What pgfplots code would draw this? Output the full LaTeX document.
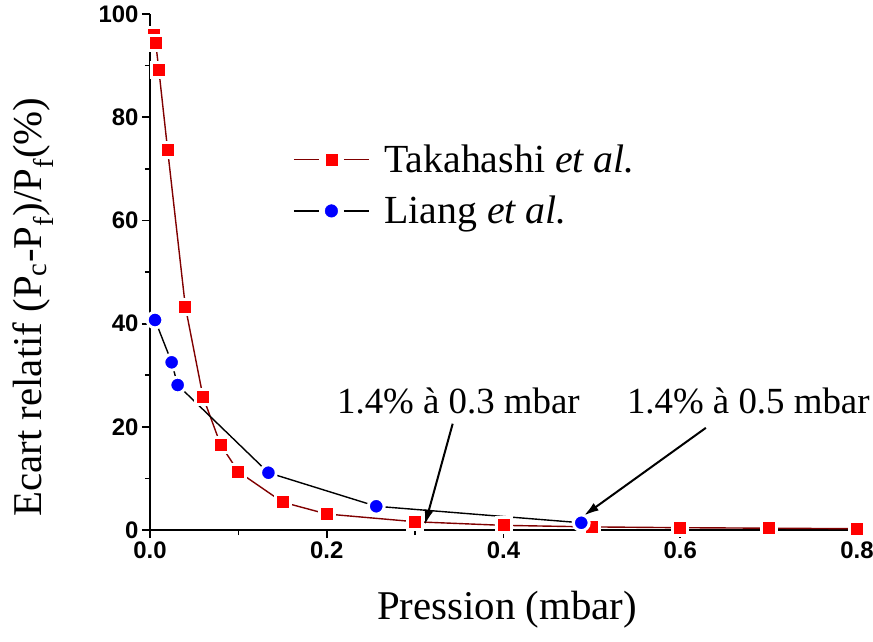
\documentclass[border=0pt]{standalone}
\usepackage{pgfplots}
\pgfplotsset{compat=1.18}
\usepackage{fontspec}
\setmainfont{Liberation Serif}
\newfontfamily\arialfont{Liberation Sans}
\usetikzlibrary{arrows.meta}
\definecolor{tline}{RGB}{128,0,0}
\definecolor{tmark}{RGB}{255,0,0}
\definecolor{lmark}{RGB}{0,0,255}
\pgfplotstableread{
x y
0.004 95.9
0.0065 94.3
0.010 89.2
0.020 73.6
0.040 43.3
0.060 25.8
0.080 16.5
0.100 11.3
0.150 5.4
0.200 3.1
0.300 1.6
0.400 0.9
0.500 0.6
0.600 0.45
0.700 0.35
0.800 0.25
}\takahashi
\pgfplotstableread{
x y
0.0057 40.7
0.0245 32.5
0.0313 28.1
0.134 11.1
0.256 4.6
0.488 1.4
}\liang
\begin{document}
\begin{tikzpicture}
\begin{axis}[
  name=ax,
  width=707bp, height=516bp, scale only axis,
  xmin=0, xmax=0.8, ymin=0, ymax=100,
  axis lines=left, axis line style={-, line width=2.5bp},
  tick align=outside,
  xtick={0,0.2,0.4,0.6,0.8}, minor xtick={0.1,0.3,0.5,0.7},
  ytick={0,20,40,60,80,100}, minor ytick={10,30,50,70,90},
  major tick length=8bp, minor tick length=5bp,
  major tick style={black, line width=1.8bp},
  minor tick style={black, line width=1.5bp},
  tick label style={font=\arialfont\bfseries\fontsize{24}{24}\selectfont},
  /pgf/number format/assume math mode=true,
  xticklabel style={/pgf/number format/.cd, fixed, fixed zerofill, precision=1},
  xlabel={Pression (mbar)},
  ylabel={Ecart relatif (P\textsubscript{c}-P\textsubscript{f})/P\textsubscript{f}(\%)},
  label style={font=\fontsize{41}{41}\selectfont},
  xlabel style={at={(axis description cs:0.505,-0.155)}, anchor=center},
  ylabel style={at={(axis description cs:-0.165,0.432)}, anchor=center},
  clip=false,
  legend style={draw=none, fill=none, at={(axis description cs:0.2023,0.75)}, anchor=north west,
    font=\fontsize{40}{40}\selectfont, row sep=18bp, inner sep=0pt, nodes={inner sep=2bp}},
  legend cell align=left,
]
\addplot[tline, line width=1.4bp, forget plot] table {\takahashi};
\addplot[black, line width=1.4bp, forget plot] table {\liang};
\addplot[only marks, mark=square*, mark size=7.5bp, mark options={draw=white, fill=tmark, line width=3bp}, forget plot] table {\takahashi};
\addplot[only marks, mark=*, mark size=7.9bp, mark options={draw=white, fill=lmark, line width=3bp}, forget plot] table {\liang};

\addlegendimage{legend image code/.code={\draw[tline, line width=1.4bp] (0bp,0bp)--(25bp,0bp) (50bp,0bp)--(75bp,0bp); \fill[tmark] (32bp,-5.5bp) rectangle (43bp,5.5bp); \path (88bp,0bp);}}
\addlegendentry{Takahashi \textit{et al.}}
\addlegendimage{legend image code/.code={\draw[black, line width=1.4bp] (0bp,0bp)--(25bp,0bp) (50bp,0bp)--(75bp,0bp); \fill[lmark] (37.5bp,0bp) circle (6.3bp); \path (88bp,0bp);}}
\addlegendentry{Liang \textit{et al.}}

\node[font=\fontsize{37}{37}\selectfont, anchor=base] at (axis cs:0.349,22.5) {1.4\% à 0.3 mbar};
\node[font=\fontsize{37}{37}\selectfont, anchor=base] at (axis cs:0.677,22.5) {1.4\% à 0.5 mbar};
\draw[-{Latex[length=15bp,width=9bp]}, line width=2bp] (axis cs:0.3425,20.6) -- (axis cs:0.311,1.0);
\draw[-{Latex[length=15bp,width=9bp]}, line width=2bp] (axis cs:0.629,19.8) -- (axis cs:0.491,2.8);
\end{axis}
\pgfresetboundingbox
\path[use as bounding box] ([xshift=-150bp,yshift=-111bp]ax.south west) rectangle ([xshift=16bp,yshift=14bp]ax.north east);
\end{tikzpicture}
\end{document}
